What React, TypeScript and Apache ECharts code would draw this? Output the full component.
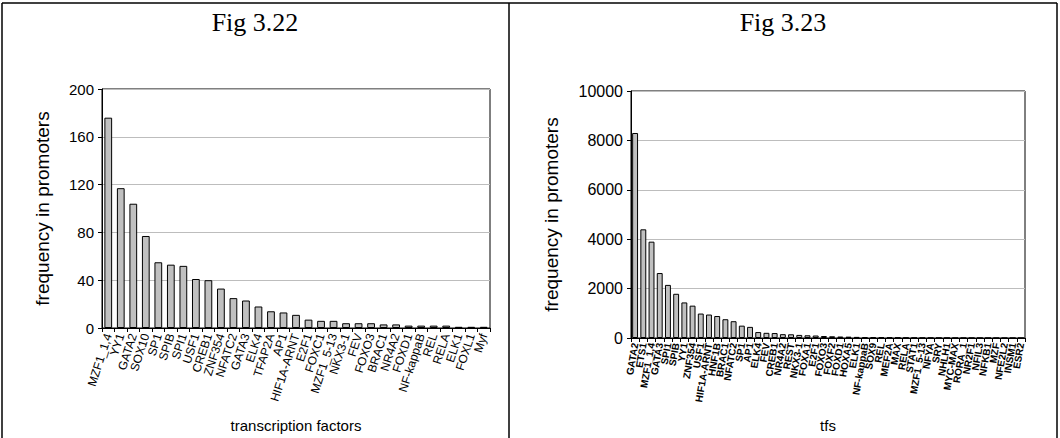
import React, { useEffect, useRef } from "react";
import * as echarts from "echarts";

// Fig 3.22: transcription factors over-represented in the promoter set
const tfNames = [
  "MZF1_1,4", "YY1", "GATA2", "SOX10", "SP1", "SPIB", "SPI1", "USF1", "CREB1",
  "ZNF354", "NFATC2", "GATA3", "ELK4", "TFAP2A", "AP1", "HIF1A-ARNT", "E2F1",
  "FOXC1", "MZF1_5-13", "NKX3-1", "FEV", "FOXO3", "BRAC1", "NR4A2", "FOXD1",
  "NF-kappaB", "REL", "RELA", "ELK1", "FOXL1", "Myf",
];
const tfCounts = [
  176, 117, 104, 77, 55, 53, 52, 41, 40, 33, 25, 23, 18, 14, 13, 11, 7, 6, 6,
  4, 4, 4, 3, 3, 2, 2, 2, 2, 1, 1, 1,
];

// Fig 3.23: binding-site frequency per factor
const tfsNames = [
  "GATA2", "ETS1", "MZF1_1,4", "GATA3", "SPI1", "SPIB", "YY1", "ZNF354", "USF1",
  "HIF1A-ARNT", "HNF1B", "BRAC1", "NFATC2", "SP1", "AP1", "ELK4", "FEV", "CREB1",
  "NR4A2", "REST", "NKX3-1", "FOXA1", "E2F1", "FOXO3", "FOXF2", "FOXD1", "HOXA5",
  "ELK1", "NF-kappaB", "SOX9", "REL", "MEF2A", "MAX", "RELA", "STAT1",
  "MZF1_5-13", "NFYA", "SRY", "NHLH1", "MYC-MAX", "RORA_1", "NR2F1", "NFIL3",
  "NFKB1", "MZF", "NFE2L2", "INSM1", "ESR2",
];
const tfsCounts = [
  8300, 4400, 3900, 2630, 2150, 1790, 1440, 1310, 990, 950, 890, 760, 680, 500,
  450, 240, 210, 200, 155, 150, 125, 110, 100, 80, 70, 60, 55, 45, 40, 35, 30,
  25, 20, 15, 12, 10, 8, 7, 6, 5, 4, 3, 3, 2, 2, 1, 1, 1,
];

const leftTicks = { min: 0, max: 200, interval: 40 };
const rightTicks = { min: 0, max: 10000, interval: 2000 };

const SANS = "'Liberation Sans', Arial, sans-serif";
const SERIF = "'Liberation Serif', 'Times New Roman', serif";

export default function App() {
  const ref = useRef<HTMLDivElement>(null);

  useEffect(() => {
    if (!ref.current) return;
    const chart = echarts.init(ref.current, undefined, { renderer: "svg" });

    const yAxisBase = {
      type: "value" as const,
      nameLocation: "middle" as const,
      nameRotate: 90,
      nameTextStyle: { fontFamily: SANS, fontSize: 19, color: "#000" },
      axisLine: { show: true, lineStyle: { color: "#000", width: 1 } },
      axisTick: { show: true, length: 4, lineStyle: { color: "#000" } },
      splitLine: { show: true, lineStyle: { color: "#bdbdbd", width: 1 } },
    };
    const xAxisBase = {
      type: "category" as const,
      nameLocation: "middle" as const,
      nameTextStyle: { fontFamily: SANS, fontSize: 15, color: "#000" },
      axisLine: { show: true, lineStyle: { color: "#000", width: 1 } },
      axisTick: { show: true, length: 4, lineStyle: { color: "#000" } },
      splitLine: { show: false },
    };
    const barStyle = { color: "#c0c0c0", borderColor: "#000", borderWidth: 1 };
    const plainNumber = (v: number) => String(v);

    const frame = { stroke: "#000", lineWidth: 1.5 };

    chart.setOption({
      animation: false,
      backgroundColor: "#fff",
      grid: [
        {
          left: 102, top: 89, width: 388, height: 240, show: true,
          borderColor: "#000", borderWidth: 1, backgroundColor: "transparent",
        },
        {
          left: 631, top: 91, width: 394, height: 251, show: true,
          borderColor: "#000", borderWidth: 1, backgroundColor: "transparent",
        },
      ],
      xAxis: [
        {
          ...xAxisBase,
          gridIndex: 0,
          data: tfNames,
          name: "transcription factors",
          nameGap: 90,
          axisLabel: {
            interval: 0, rotate: 72, fontFamily: SANS, fontSize: 12,
            color: "#000", margin: 6,
          },
        },
        {
          ...xAxisBase,
          gridIndex: 1,
          data: tfsNames,
          name: "tfs",
          nameGap: 80,
          axisLabel: {
            interval: 0, rotate: 80, fontFamily: SANS, fontSize: 10,
            fontWeight: "bold", color: "#000", margin: 5,
          },
        },
      ],
      yAxis: [
        {
          ...yAxisBase,
          gridIndex: 0,
          ...leftTicks,
          name: "frequency in promoters",
          nameGap: 50,
          axisLabel: {
            fontFamily: SANS, fontSize: 15, color: "#000", margin: 8,
            formatter: plainNumber,
          },
        },
        {
          ...yAxisBase,
          gridIndex: 1,
          ...rightTicks,
          name: "frequency in promoters",
          nameGap: 70,
          axisLabel: {
            fontFamily: SANS, fontSize: 16, color: "#000", margin: 8,
            formatter: plainNumber,
          },
        },
      ],
      series: [
        {
          type: "bar", xAxisIndex: 0, yAxisIndex: 0, data: tfCounts,
          barWidth: "62%", itemStyle: barStyle,
        },
        {
          type: "bar", xAxisIndex: 1, yAxisIndex: 1, data: tfsCounts,
          barWidth: "72%", itemStyle: barStyle,
        },
      ],
      graphic: [
        { type: "line", shape: { x1: 2, y1: 3, x2: 1057, y2: 3 }, style: frame },
        { type: "line", shape: { x1: 2, y1: 3, x2: 2, y2: 438 }, style: frame },
        { type: "line", shape: { x1: 1057, y1: 3, x2: 1057, y2: 438 }, style: frame },
        { type: "line", shape: { x1: 509, y1: 3, x2: 509, y2: 438 }, style: frame },
        {
          type: "text", x: 255, y: 22,
          style: {
            text: "Fig 3.22", font: `26px ${SERIF}`, fill: "#000",
            textAlign: "center", textVerticalAlign: "middle",
          },
        },
        {
          type: "text", x: 783, y: 22,
          style: {
            text: "Fig 3.23", font: `26px ${SERIF}`, fill: "#000",
            textAlign: "center", textVerticalAlign: "middle",
          },
        },
      ],
    });

    return () => chart.dispose();
  }, []);

  return (
    <div
      ref={ref}
      style={{ position: "fixed", left: 0, top: 0, width: 1060, height: 438 }}
    />
  );
}
